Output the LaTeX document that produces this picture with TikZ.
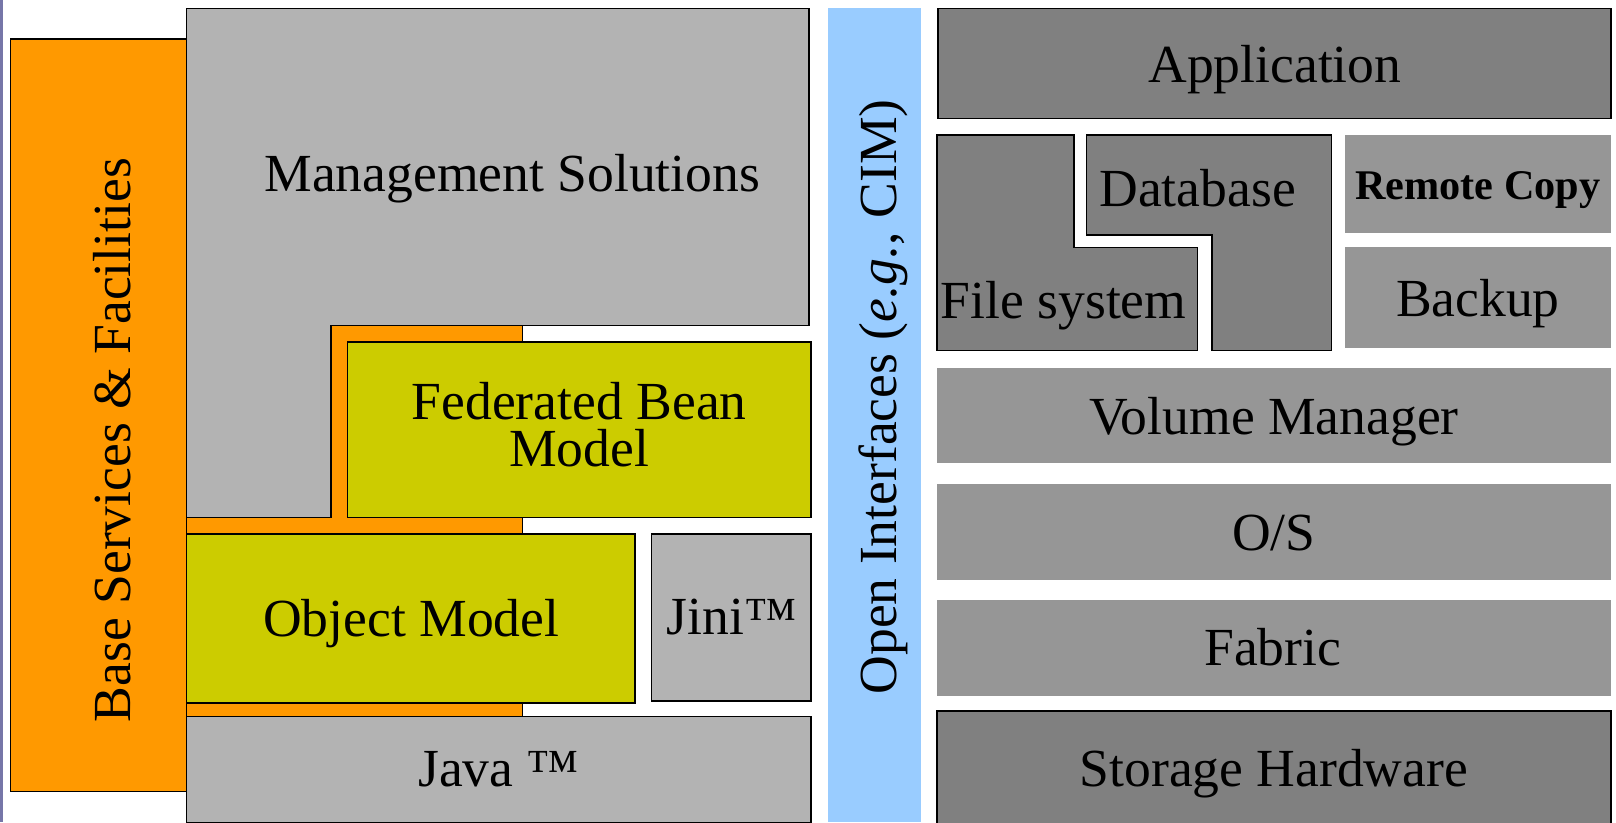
\documentclass[tikz,border=0pt]{standalone}
\usepackage{fontspec}
\setmainfont{Liberation Serif}
\usepackage{tikz}
\usetikzlibrary{positioning}
\usepackage{xcolor}

\definecolor{baseOrange}{HTML}{FF9900}
\definecolor{beanYellow}{HTML}{CCCC00}
\definecolor{mgmtGray}{HTML}{B3B3B3}
\definecolor{stackGray}{HTML}{969696}
\definecolor{darkGray}{HTML}{808080}
\definecolor{cimBlue}{HTML}{99CCFF}
\definecolor{edgeBlue}{HTML}{7676A8}

\begin{document}
\begin{tikzpicture}[
        x=0.5pt, y=-0.5pt,
        layer/.style={draw=black, line width=0.7pt},
        label/.style={font=\fontsize{26}{22.5}\selectfont, align=center, inner sep=0pt, anchor=base},
        small/.style={font=\fontsize{20.5}{22}\selectfont\bfseries, inner sep=0pt, anchor=base}
      ]
      \useasboundingbox (0,0) rectangle (1568,798);

      % slide edge
      \fill[edgeBlue] (0,0) rectangle (3,798);

      % Left stack
      \filldraw[layer, fill=baseOrange] (321,316) -- (507,316) -- (507,695) -- (181,695) -- (181,502) -- (321,502) -- cycle;
      \filldraw[layer, fill=baseOrange] (10,38) rectangle (181,768);
      \node[label, rotate=90] (baseServices) at (127,427) {Base Services \& Facilities};

      \filldraw[layer, fill=mgmtGray] (181,8) -- (785,8) -- (785,316) -- (321,316) -- (321,502) -- (181,502) -- cycle;
      \node[label] (mgmt) at (497,186) {Management Solutions};

      \filldraw[layer, fill=beanYellow] (337,332) rectangle (787,502);
      \node[label, anchor=center] (fedBean) at (562,412) {Federated Bean\\Model};

      \filldraw[layer, fill=beanYellow] (181,518) rectangle (616,682);
      \node[label] (objModel) at (399,618) {Object Model};

      \filldraw[layer, fill=mgmtGray] (632,518) rectangle (787,680);
      \node[label] (jini) at (710,616) {Jini™};

      \filldraw[layer, fill=mgmtGray] (181,695) rectangle (787,798);
      \node[label] (java) at (484,763) {Java ™};

      % Open interfaces
      \fill[cimBlue] (803,8) rectangle (894,798);
      \node[label, rotate=90] (openIf) at (870,385) {Open Interfaces (\textit{e.g.}, CIM)};

      % Right stack
      \filldraw[layer, fill=darkGray] (910,8) rectangle (1563,115);
      \node[label] (app) at (1237,80) {Application};

      \filldraw[layer, fill=darkGray] (909,131) -- (1042,131) -- (1042,240) -- (1162,240) -- (1162,340) -- (909,340) -- cycle;
      \node[label] (fileSys) at (1032,309) {File system};

      \filldraw[layer, fill=darkGray] (1054,131) -- (1292,131) -- (1292,340) -- (1176,340) -- (1176,228) -- (1054,228) -- cycle;
      \node[label] (database) at (1162,200) {Database};

      \fill[stackGray] (1305,131) rectangle (1563,226);
      \node[small] (remoteCopy) at (1434,194) {Remote Copy};

      \fill[stackGray] (1305,240) rectangle (1563,338);
      \node[label] (backup) at (1434,307) {Backup};

      \fill[stackGray] (909,357) rectangle (1563,449);
      \node[label] (volMgr) at (1236,422) {Volume Manager};

      \fill[stackGray] (909,470) rectangle (1563,563);
      \node[label] (os) at (1236,534) {O/S};

      \fill[stackGray] (909,582) rectangle (1563,675);
      \node[label] (fabric) at (1235,646) {Fabric};

      \filldraw[layer, fill=darkGray] (909,690) rectangle (1563,800);
      \node[label] (storageHw) at (1236,763) {Storage Hardware};
  \end{tikzpicture}
\end{document}
